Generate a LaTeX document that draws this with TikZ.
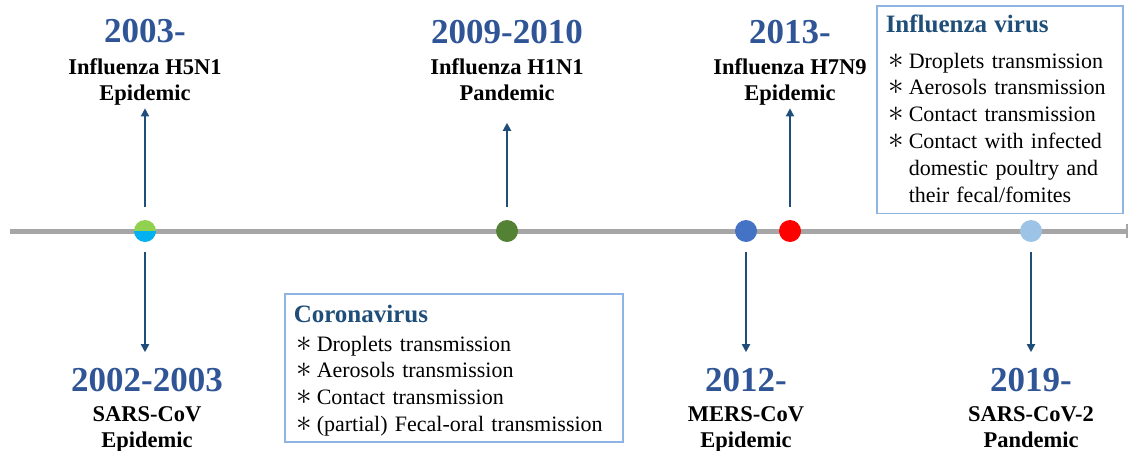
\documentclass[tikz,border=0pt]{standalone}
\usepackage{fontspec}
\setmainfont{Liberation Serif}
\usetikzlibrary{arrows.meta}

\definecolor{yearblue}{HTML}{2F5597}
\definecolor{titleblue}{HTML}{1F4E79}
\definecolor{arrowblue}{HTML}{1F4E79}
\definecolor{boxline}{HTML}{8EB4E3}
\definecolor{axisgray}{HTML}{A6A6A6}
\definecolor{hfivegreen}{HTML}{92D050}
\definecolor{sarscyan}{HTML}{00B0F0}
\definecolor{honegreen}{HTML}{548235}
\definecolor{mersblue}{HTML}{4472C4}
\definecolor{hsevenred}{HTML}{FF0000}
\definecolor{covlight}{HTML}{9DC3E6}

\newcommand{\itm}{\hspace*{3pt}\makebox[20pt][l]{\scalebox{1.5}{$\ast$}}}
\newcommand{\boxtitle}[2]{\rule{0pt}{#1}{\fontsize{25}{27}\selectfont\bfseries\color{titleblue}#2}}

\tikzset{
	axisline/.style = {draw=axisgray, line width=5pt, -{Bar[width=14pt, line width=2.5pt]}},
	evdot/.style = {circle, minimum size=22pt, inner sep=0pt},
	evarrow/.style = {draw=arrowblue, line width=1.8pt, -{Triangle[length=8pt, width=8pt]}},
	yeartext/.style = {anchor=base, text=yearblue, font=\fontsize{35}{38}\selectfont\bfseries},
	evtext/.style = {anchor=base, align=center, font=\fontsize{22.5}{26}\selectfont\bfseries},
	infobox/.style = {draw=boxline, line width=1.5pt, anchor=north west, align=left,
		inner xsep=9pt, inner ysep=5.5pt, font=\fontsize{22}{26.8}\selectfont}
}

\begin{document}
\begin{tikzpicture}[x=1pt, y=-1pt]
	\useasboundingbox (0,0) rectangle (1130,450);

	% time axis
	\coordinate (t0) at (10,231);
	\coordinate (t1) at (1128,231);
	\draw[axisline] (t0) -- (t1);

	% events on the axis
	\node[evdot, path picture={
		\fill[hfivegreen] (path picture bounding box.north west) rectangle (path picture bounding box.east);
		\fill[sarscyan] (path picture bounding box.west) rectangle (path picture bounding box.south east);
	}] (d2003) at (145,231) {};
	\node[evdot, fill=honegreen] (d2009) at (507,231) {};
	\node[evdot, fill=mersblue] (d2012) at (746,231) {};
	\node[evdot, fill=hsevenred] (d2013) at (790,231) {};
	\node[evdot, fill=covlight] (d2019) at (1031,231) {};

	% influenza, above
	\node[yeartext] (y2003) at (145,42) {2003-};
	\node[evtext] (l2003) at (145,100) {Influenza H5N1\\Epidemic};

	\node[yeartext] (y2009) at (507,43) {2009-2010};
	\node[evtext] (l2009) at (507,100) {Influenza H1N1\\Pandemic};

	\node[yeartext] (y2013) at (790,43) {2013-};
	\node[evtext] (l2013) at (790,100) {Influenza H7N9\\Epidemic};

	% coronavirus, below
	\node[yeartext] (y2002) at (147,391) {2002-2003};
	\node[evtext] (l2002) at (147,447) {SARS-CoV\\Epidemic};

	\node[yeartext] (y2012) at (746,391) {2012-};
	\node[evtext] (l2012) at (746,447) {MERS-CoV\\Epidemic};

	\node[yeartext] (y2019) at (1031,391) {2019-};
	\node[evtext] (l2019) at (1031,447) {SARS-CoV-2\\Pandemic};

	\draw[evarrow, shorten <=13pt] (d2003) -- (l2003);
	\draw[evarrow, shorten <=13pt, shorten >=19pt] (d2009) -- (l2009);
	\draw[evarrow, shorten <=13pt] (d2013) -- (l2013);
	\draw[evarrow, shorten <=10pt, shorten >=12pt] (d2003) -- (y2002.north -| d2003);
	\draw[evarrow, shorten <=10pt, shorten >=12pt] (d2012) -- (y2012);
	\draw[evarrow, shorten <=10pt, shorten >=12pt] (d2019) -- (y2019);

	% transmission boxes
	\node[infobox, text width=320pt] (corobox) at (284,293) {\boxtitle{23pt}{Coronavirus}\\[2pt]
		\itm Droplets transmission\\
		\itm Aerosols transmission\\
		\itm Contact transmission\\
		\itm (partial) Fecal-oral transmission\rule[-5pt]{0pt}{5pt}};

	\node[infobox, text width=228pt] (flubox) at (876,5) {\boxtitle{21pt}{Influenza virus}\\[9pt]
		\itm Droplets transmission\\
		\itm Aerosols transmission\\
		\itm Contact transmission\\
		\itm Contact with infected\\
		\hspace*{23pt}domestic poultry and\\
		\hspace*{23pt}their fecal/fomites\rule[-6pt]{0pt}{6pt}};
\end{tikzpicture}
\end{document}
